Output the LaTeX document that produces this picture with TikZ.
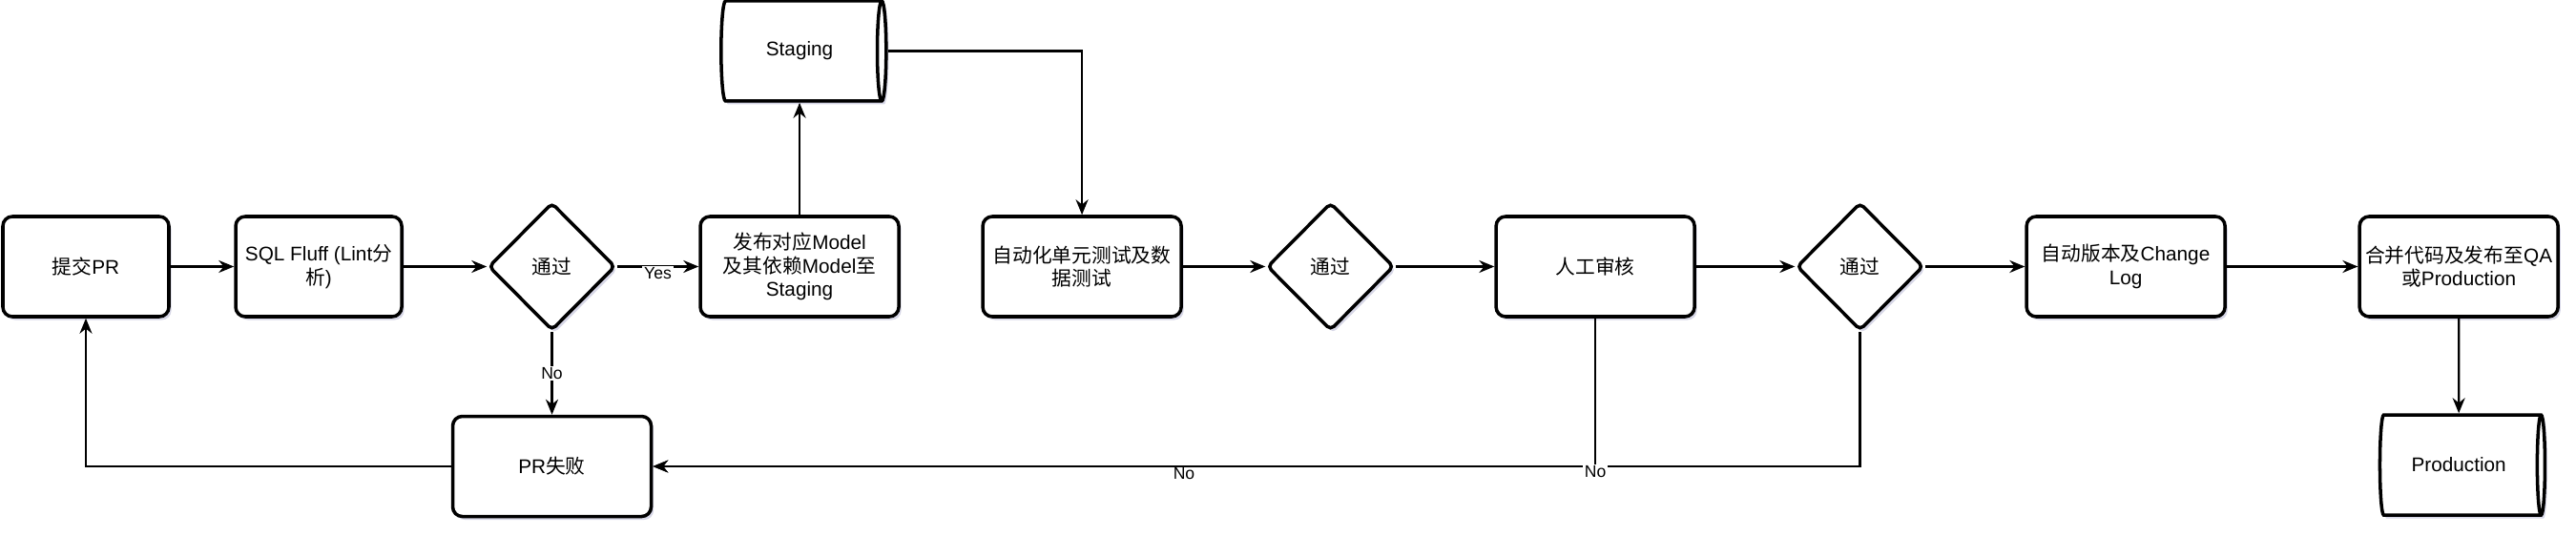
\documentclass[tikz,border=0pt]{standalone}
\usepackage{fontspec}
\setmainfont{Liberation Sans}
\newfontfamily\zhfont{Noto Sans CJK SC}
\usepackage{tikz}
\usetikzlibrary{arrows.meta,positioning,shapes.geometric,shadows}
\tikzset{
  flow/shade/.style={drop shadow={shadow xshift=1.5pt, shadow yshift=-2pt, opacity=0.25, fill=blue!25!gray}},
  flow/proc/.style={draw, line width=2pt, rounded corners=2mm, fill=white, align=center, inner xsep=1pt, minimum width=4.16cm, minimum height=2.1cm, font=\fontsize{11.8}{14}\selectfont, flow/shade},
  flow/procsmall/.style={flow/proc, minimum width=3.48cm},
  flow/check/.style={draw, diamond, line width=2pt, rounded corners=1mm, fill=white, aspect=1, inner sep=0pt, minimum width=2.66cm, minimum height=2.68cm, font=\fontsize{11.8}{14}\selectfont, flow/shade},
  flow/store/.style={draw, cylinder, line width=2pt, aspect=0.3, fill=white, minimum height=3.46cm, minimum width=2.1cm, font=\fontsize{11.8}{14}\selectfont, flow/shade},
  flow/line/.style={line width=1.3pt, -{Stealth[length=3.2mm,width=2.6mm]}},
  flow/label/.style={fill=white, inner sep=1pt, font=\fontsize{10}{12}\selectfont}
}
\begin{document}
\begin{tikzpicture}[node distance=1.8cm]
\useasboundingbox (0,0) rectangle (54,-11.24);
\node[flow/procsmall] (submit) at (1.8,-5.59) {{\zhfont 提交}PR};
\node[flow/procsmall, right=1.33cm of submit] (lint) {SQL Fluff (Lint{\zhfont 分}\\{\zhfont 析})};
\node[flow/check, right=1.75cm of lint] (pass1) {{\zhfont 通过}};
\node[flow/proc, right=1.71cm of pass1] (deploy) {{\zhfont 发布对应}Model\\{\zhfont 及其依赖}Model{\zhfont 至}\\Staging};
\node[flow/store, above=2.35cm of deploy] (staging) {Staging};
\node[flow/proc, right=1.69cm of deploy] (utest) {{\zhfont 自动化单元测试及数}\\{\zhfont 据测试}};
\node[flow/check, right=1.73cm of utest] (pass2) {{\zhfont 通过}};
\node[flow/proc, right=2.07cm of pass2] (review) {{\zhfont 人工审核}};
\node[flow/check, right=2.07cm of review] (pass3) {{\zhfont 通过}};
\node[flow/proc, right=2.09cm of pass3] (version) {{\zhfont 自动版本及}Change\\Log};
\node[flow/proc, right=2.75cm of version] (merge) {{\zhfont 合并代码及发布至}QA\\{\zhfont 或}Production};
\node[flow/store, below=1.99cm of merge] (prod) {Production};
\node[flow/proc, below=1.73cm of pass1] (fail) {PR{\zhfont 失败}};
% main flow
\draw[flow/line] (submit) -- (lint);
\draw[flow/line] (lint) -- (pass1);
\draw[flow/line] (pass1) -- node[flow/label, yshift=-0.14cm] {Yes} (deploy);
\draw[flow/line] (pass1) -- node[flow/label] {No} (fail);
\draw[flow/line] (deploy.north) -- (staging.south);
\draw[flow/line] (staging.east) -| (utest.north);
\draw[flow/line] (utest) -- (pass2);
\draw[flow/line] (pass2) -- (review);
\draw[flow/line] (review) -- (pass3);
\draw[flow/line] (pass3) -- (version);
\draw[flow/line] (version) -- (merge);
\draw[flow/line] (merge) -- (prod);
% back to PR
\draw[flow/line] (fail) -| (submit);
\draw[flow/line] (pass3) |- node[flow/label, pos=0.78, yshift=-0.16cm] {No} (fail);
\draw[flow/line] (review) |- node[flow/label, pos=0.5, yshift=-0.12cm] {No} (fail);
\end{tikzpicture}
\end{document}
